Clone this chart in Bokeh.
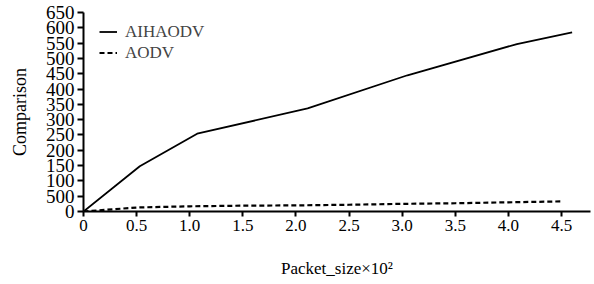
from bokeh.plotting import figure
from bokeh.models import Range1d, FixedTicker, Legend, LegendItem
from bokeh.embed import file_html
from bokeh.resources import INLINE

# data
aihaodv_x = [0.0, 0.53, 1.07, 2.11, 3.05, 4.08, 4.6]
aihaodv_y = [0, 148, 254, 337, 445, 547, 585]
aodv_x = [0.0, 0.5, 1.0, 1.5, 2.0, 2.5, 3.0, 3.5, 4.0, 4.5]
aodv_y = [0, 13, 17, 19, 20, 22, 25, 27, 30, 33]

x_ticks = [0, 0.5, 1.0, 1.5, 2.0, 2.5, 3.0, 3.5, 4.0, 4.5]
x_tick_labels = ["0", "0.5", "1.0", "1.5", "2.0", "2.5", "3.0", "3.5", "4.0", "4.5"]
y_ticks = [0, 50, 100, 150, 200, 250, 300, 350, 400, 450, 500, 550, 600, 650]
y_tick_labels = ["0", "500", "100", "150", "200", "250", "300", "350", "400",
                 "450", "500", "550", "600", "650"]

FONT = "Liberation Serif"

p = figure(width=594, height=284, output_backend="svg", toolbar_location=None,
           x_range=Range1d(0, 4.773), y_range=Range1d(0, 650),
           min_border_left=83, min_border_right=4, min_border_top=12, min_border_bottom=73)
p.outline_line_color = None
p.xgrid.visible = False
p.ygrid.visible = False

l1 = p.line(aihaodv_x, aihaodv_y, line_color="black", line_width=1.8)
l2 = p.line(aodv_x, aodv_y, line_color="black", line_width=2.2, line_dash="5 3")

for ax in (p.xaxis[0], p.yaxis[0]):
    ax.axis_line_width = 2
    ax.major_tick_line_width = 2
    ax.minor_tick_line_color = None
    ax.major_tick_in = 0
    ax.major_label_text_font = FONT
    ax.axis_label_text_font = FONT
    ax.axis_label_text_font_style = "normal"
    ax.major_label_text_color = "black"
    ax.axis_label_text_color = "black"
    ax.axis_line_color = "black"
    ax.major_tick_line_color = "black"

p.xaxis.ticker = FixedTicker(ticks=x_ticks)
p.xaxis.major_label_overrides = {t: s for t, s in zip(x_ticks, x_tick_labels)}
p.xaxis.major_tick_out = 5
p.xaxis.major_label_standoff = 3
p.xaxis.major_label_text_font_size = "17px"
p.xaxis.axis_label = "Packet_size×10²"
p.xaxis.axis_label_text_font_size = "17px"
p.xaxis.axis_label_standoff = 25

p.yaxis.ticker = FixedTicker(ticks=y_ticks)
p.yaxis.major_label_overrides = {t: s for t, s in zip(y_ticks, y_tick_labels)}
p.yaxis.major_tick_out = 6
p.yaxis.major_label_standoff = 3
p.yaxis.major_label_text_font_size = "19px"
p.yaxis.axis_label = "Comparison"
p.yaxis.axis_label_text_font_size = "18px"
p.yaxis.axis_label_standoff = 13

legend = Legend(items=[LegendItem(label="AIHAODV", renderers=[l1]),
                       LegendItem(label="AODV", renderers=[l2])],
                location=(16, 148), margin=0, padding=0, spacing=0,
                glyph_width=18, glyph_height=21, label_height=21,
                label_standoff=8, label_text_font=FONT, label_text_font_size="17px",
                border_line_color=None, background_fill_alpha=0)
p.add_layout(legend)

open("out.html", "w").write(file_html(p, INLINE))
